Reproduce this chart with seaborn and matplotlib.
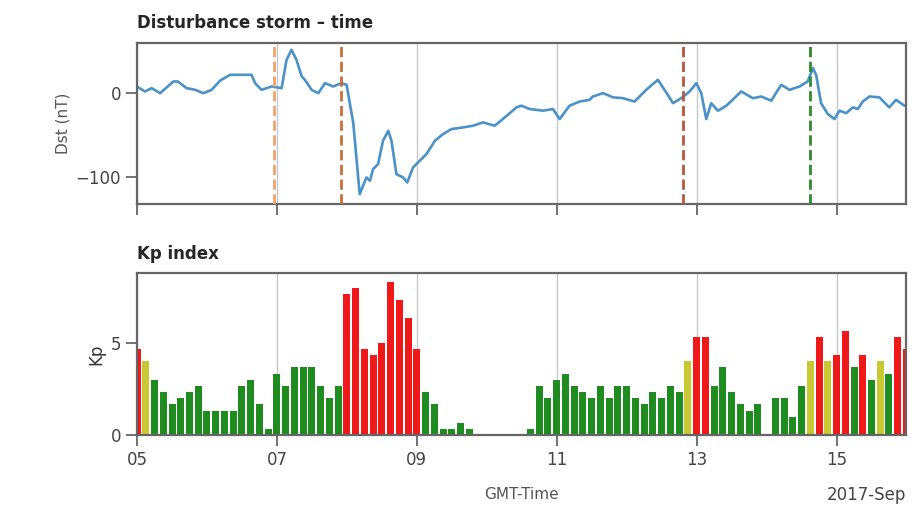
"""
Dst and Kp overview, storm of September 2017.
"""

import matplotlib
matplotlib.use("Agg")
import matplotlib.pyplot as plt
import matplotlib.dates as mdates
import numpy as np
import pandas as pd
import seaborn as sns

START = pd.Timestamp("2017-09-05 00:00")
END = pd.Timestamp("2017-09-16 00:00")

# Dst (nT): hours after 2017-09-05 00:00
dst_hours = [0, 2.7, 5, 7.9, 12.5, 14, 17, 20, 22.7, 25.6, 28.5, 31.9, 35.3, 39.3,
             40.5, 42.7, 46.2, 49.6, 51.3, 53, 54.7, 56.5, 57.6, 59.9, 62.2, 64.5,
             67.3, 70.2, 71.9, 74.2, 76.4, 78.7, 79.9, 81, 82.7, 84.4, 86.2, 87.3,
             89, 91.3, 92.7, 94.7, 97, 99.3, 102.2, 105, 107.9, 111.9, 115.3, 118.7,
             122.7, 126.2, 130.2, 131.9, 134.7, 139.3, 142.7, 145, 148.4, 151.9,
             155.3, 156.4, 159.9, 163.3, 166.7, 170.7, 174.7, 178.7, 181, 183.9,
             186.7, 189.6, 191.9, 193.6, 195.3, 197, 199.3, 202.2, 207.3, 211.3,
             214.2, 217.6, 221, 223.9, 227.3, 230.1, 231.9, 233, 234.7, 237, 239.3,
             241, 243.3, 245.6, 247.3, 249, 251.3, 254.7, 258.1, 260.4, 263.3]
dst_values = [8, 2, 6, 0, 14, 14, 6, 4, 0, 4, 15, 22, 22, 22,
              12, 4, 8, 6, 40, 52, 40, 20, 16, 4, 0, 12,
              8, 12, 10, -36, -121, -101, -105, -91, -85, -57, -45, -57,
              -97, -101, -107, -89, -81, -73, -57, -49, -43, -41, -39, -35,
              -39, -29, -17, -15, -19, -21, -19, -31, -15, -10,
              -8, -4, 0, -5, -6, -10, 4, 16, 4, -12,
              -6, 2, 12, 0, -31, -12, -21, -15, 2, -6,
              -4, -9, 10, 4, 8, 14, 30, 22, -12, -25, -31,
              -21, -24, -17, -19, -10, -4, -5, -17, -8, -15]

# Kp, one value every 3 hours from 2017-09-05 00:00 to 2017-09-16 00:00
kp_values = [4.67, 4.0, 3.0, 2.33, 1.67, 2.0, 2.33, 2.67,
             1.33, 1.33, 1.33, 1.33, 2.67, 3.0, 1.67, 0.33,
             3.33, 2.67, 3.67, 3.67, 3.67, 2.67, 2.0, 2.67,
             7.67, 8.0, 4.67, 4.33, 5.0, 8.33, 7.33, 6.33,
             4.67, 2.33, 1.67, 0.33, 0.33, 0.67, 0.33, 0.0,
             0.0, 0.0, 0.0, 0.0, 0.0, 0.33, 2.67, 2.0,
             3.0, 3.33, 2.67, 2.33, 2.0, 2.67, 2.0, 2.67,
             2.67, 2.0, 1.67, 2.33, 2.0, 2.67, 2.33, 4.0,
             5.33, 5.33, 2.67, 3.67, 2.33, 1.67, 1.33, 1.67,
             0.0, 2.0, 2.0, 1.0, 2.67, 4.0, 5.33, 4.0,
             4.33, 5.67, 3.67, 4.33, 3.0, 4.0, 3.33, 5.33,
             4.67]

# storm markers (vertical dashed lines on the Dst panel)
event_times = ["2017-09-06 23:00", "2017-09-07 22:00", "2017-09-12 19:10", "2017-09-14 15:00"]
event_colors = ["#eea46c", "#c8703c", "#b45a3c", "#2e8b2e"]

dst = pd.DataFrame({"time": START + pd.to_timedelta(dst_hours, unit="h"),
                    "dst": dst_values})
kp = pd.DataFrame({"time": pd.date_range(START, periods=len(kp_values), freq="3h"),
                   "kp": kp_values})


def kp_color(v):
    if v > 4.1:
        return "#f01818"
    if v >= 3.9:
        return "#c8c832"
    return "#1e8c1e"


kp["color"] = kp["kp"].apply(kp_color)

sns.set_style("ticks")
plt.rcParams["font.family"] = ["DejaVu Sans"]
edge = "#666666"
plt.rcParams.update({
    "axes.edgecolor": edge,
    "axes.linewidth": 1.6,
    "xtick.color": edge,
    "ytick.color": edge,
    "xtick.labelcolor": "#444444",
    "ytick.labelcolor": "#444444",
    "xtick.major.size": 8,
    "ytick.major.size": 8,
    "xtick.major.width": 1.3,
    "ytick.major.width": 1.3,
    "font.size": 12,
})

fig = plt.figure(figsize=(9.16, 5.13), dpi=100)
ax1 = fig.add_axes([0.1496, 0.602, 0.840, 0.314])
ax2 = fig.add_axes([0.1496, 0.152, 0.840, 0.316])

locator = mdates.DayLocator(bymonthday=[5, 7, 9, 11, 13, 15])
formatter = mdates.ConciseDateFormatter(locator)

# Dst panel
sns.lineplot(data=dst, x="time", y="dst", ax=ax1, color="#4a92c8", linewidth=1.9)
for t, c in zip(event_times, event_colors):
    ax1.axvline(pd.Timestamp(t), color=c, linestyle="--", linewidth=2.0, zorder=3)
ax1.set_xlim(START, END)
ax1.set_ylim(-133, 60)
ax1.set_yticks([-100, 0])
ax1.xaxis.set_major_locator(locator)
ax1.xaxis.set_major_formatter(formatter)
ax1.tick_params(axis="x", labelbottom=False)
ax1.grid(axis="x", color="#c8c8c8", linewidth=1.0)
ax1.set_xlabel("")
ax1.set_ylabel("Dst (nT)", color="#555555", fontsize=11)
ax1.set_title("Disturbance storm \u2013 time", loc="left", fontweight="bold", fontsize=12, pad=11)

# Kp panel
ax2.bar(kp["time"], kp["kp"], width=pd.Timedelta(hours=2.4), color=kp["color"],
        edgecolor="none", zorder=2)
ax2.set_xlim(START, END)
ax2.set_ylim(0, 8.8)
ax2.set_yticks([0, 5])
ax2.xaxis.set_major_locator(locator)
ax2.xaxis.set_major_formatter(formatter)
ax2.xaxis.OFFSETTEXTPAD = 12
ax2.grid(axis="x", color="#c8c8c8", linewidth=1.0, zorder=0)
ax2.set_xlabel("GMT-Time", color="#555555", fontsize=11, labelpad=13)
ax2.set_ylabel("Kp", color="#333333", fontsize=12)
ax2.set_title("Kp index", loc="left", fontweight="bold", fontsize=12, pad=10)

fig.savefig("out.png", dpi=100)
